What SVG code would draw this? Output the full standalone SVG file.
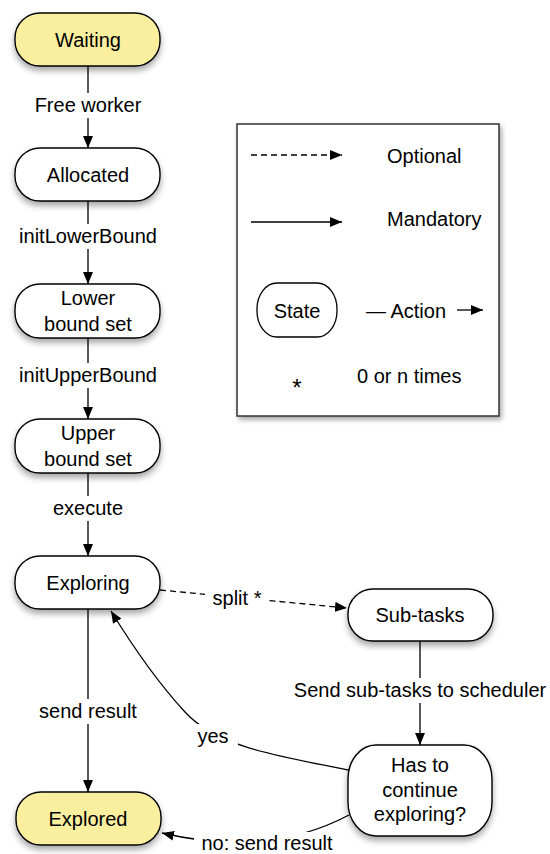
<svg xmlns="http://www.w3.org/2000/svg" width="550" height="854" viewBox="0 0 550 854">
  <style>
    text { font-family: "Liberation Sans", Arial, sans-serif; font-size: 20px; fill: #000; }
    .c { text-anchor: middle; }
    .node { fill: #fff; stroke: #000; stroke-width: 1.4; filter: url(#shadow); }
    .final { fill: #f9ef9f; }
    .edge { fill: none; stroke: #000; stroke-width: 1.3; marker-end: url(#arrow); }
    .dash { stroke-dasharray: 6 4; }
    .lbl { fill: #fff; stroke: none; }
  </style>
  <defs>
    <filter id="shadow" x="-20%" y="-30%" width="140%" height="180%">
      <feDropShadow dx="0" dy="4" stdDeviation="3" flood-color="#000" flood-opacity="0.35"/>
    </filter>
    <filter id="boxShadow" x="-10%" y="-10%" width="125%" height="125%">
      <feDropShadow dx="2" dy="3" stdDeviation="2.5" flood-color="#000" flood-opacity="0.35"/>
    </filter>
    <marker id="arrow" viewBox="0 0 12 10" refX="12" refY="5" markerWidth="12" markerHeight="10" markerUnits="userSpaceOnUse" orient="auto">
      <path d="M0,0 L12,5 L0,10 z" fill="#000"/>
    </marker>
  </defs>

  <!-- transitions -->
  <g id="connectors">
    <path class="edge" d="M88,66 L88,148"/>
    <path class="edge" d="M88,201 L88,284"/>
    <path class="edge" d="M88,338 L88,419"/>
    <path class="edge" d="M88,473 L88,556"/>
    <path class="edge" d="M88,609 L88,792"/>
    <path class="edge dash" d="M160,590 L347,608"/>
    <path class="edge" d="M420,641 L420,745"/>
    <path class="edge" d="M349,770 C 270,755 215,745 185,712 C 160,685 135,650 111,611"/>
    <path class="edge" d="M349,815 Q 268,858 162,833"/>

    <rect class="lbl" x="30" y="93" width="116" height="25"/>
    <text class="c" x="88" y="112">Free worker</text>
    <rect class="lbl" x="12" y="224" width="152" height="25"/>
    <text class="c" x="88" y="243">initLowerBound</text>
    <rect class="lbl" x="12" y="363" width="152" height="25"/>
    <text class="c" x="88" y="382">initUpperBound</text>
    <rect class="lbl" x="48" y="496" width="80" height="25"/>
    <text class="c" x="88" y="515">execute</text>
    <rect class="lbl" x="205" y="586" width="64" height="25"/>
    <text class="c" x="237" y="605">split *</text>
    <rect class="lbl" x="288" y="678" width="262" height="25"/>
    <text class="c" x="420" y="697">Send sub-tasks to scheduler</text>
    <rect class="lbl" x="34" y="699" width="108" height="25"/>
    <text class="c" x="88" y="718">send result</text>
    <rect class="lbl" x="192" y="724" width="46" height="25"/>
    <text class="c" x="213" y="743">yes</text>
    <rect class="lbl" x="194" y="832" width="146" height="22"/>
    <text class="c" x="267" y="850">no: send result</text>
  </g>

  <g id="waiting">
    <rect class="node final" x="15" y="13" width="145" height="53" rx="25" ry="25"/>
    <text class="c" x="88" y="47">Waiting</text>
  </g>
  <g id="allocated">
    <rect class="node" x="15" y="148" width="145" height="53" rx="25" ry="25"/>
    <text class="c" x="88" y="182">Allocated</text>
  </g>
  <g id="lower-bound-set">
    <rect class="node" x="15" y="284" width="145" height="54" rx="25" ry="25"/>
    <text class="c" x="88" y="305">Lower</text>
    <text class="c" x="88" y="331">bound set</text>
  </g>
  <g id="upper-bound-set">
    <rect class="node" x="15" y="419" width="145" height="54" rx="25" ry="25"/>
    <text class="c" x="88" y="440">Upper</text>
    <text class="c" x="88" y="466">bound set</text>
  </g>
  <g id="exploring">
    <rect class="node" x="15" y="556" width="145" height="53" rx="25" ry="25"/>
    <text class="c" x="88" y="590">Exploring</text>
  </g>
  <g id="explored">
    <rect class="node final" x="16" y="792" width="145" height="53" rx="25" ry="25"/>
    <text class="c" x="88" y="826">Explored</text>
  </g>
  <g id="sub-tasks">
    <rect class="node" x="348" y="589" width="145" height="52" rx="25" ry="25"/>
    <text class="c" x="420" y="622">Sub-tasks</text>
  </g>
  <g id="has-to-continue">
    <rect class="node" x="348" y="745" width="144" height="91" rx="28" ry="34"/>
    <text class="c" x="420" y="772">Has to</text>
    <text class="c" x="420" y="797">continue</text>
    <text class="c" x="420" y="821">exploring?</text>
  </g>

  <g id="legend">
    <rect x="237" y="124" width="262" height="292" fill="#fff" stroke="#333" stroke-width="1.5" filter="url(#boxShadow)"/>
    <path class="edge dash" d="M251,155 L342,155"/>
    <text x="387" y="163">Optional</text>
    <path class="edge" d="M251,222 L342,222"/>
    <text x="387" y="226">Mandatory</text>
    <rect x="257" y="283" width="80" height="54" rx="20" ry="26" fill="#fff" stroke="#000" stroke-width="1.3"/>
    <text class="c" x="297" y="318">State</text>
    <text x="366" y="318">— Action</text>
    <path class="edge" d="M457,310 L483,310"/>
    <text class="c" x="297" y="396" style="font-size:24px">*</text>
    <text x="357" y="383">0 or n times</text>
  </g>
</svg>
